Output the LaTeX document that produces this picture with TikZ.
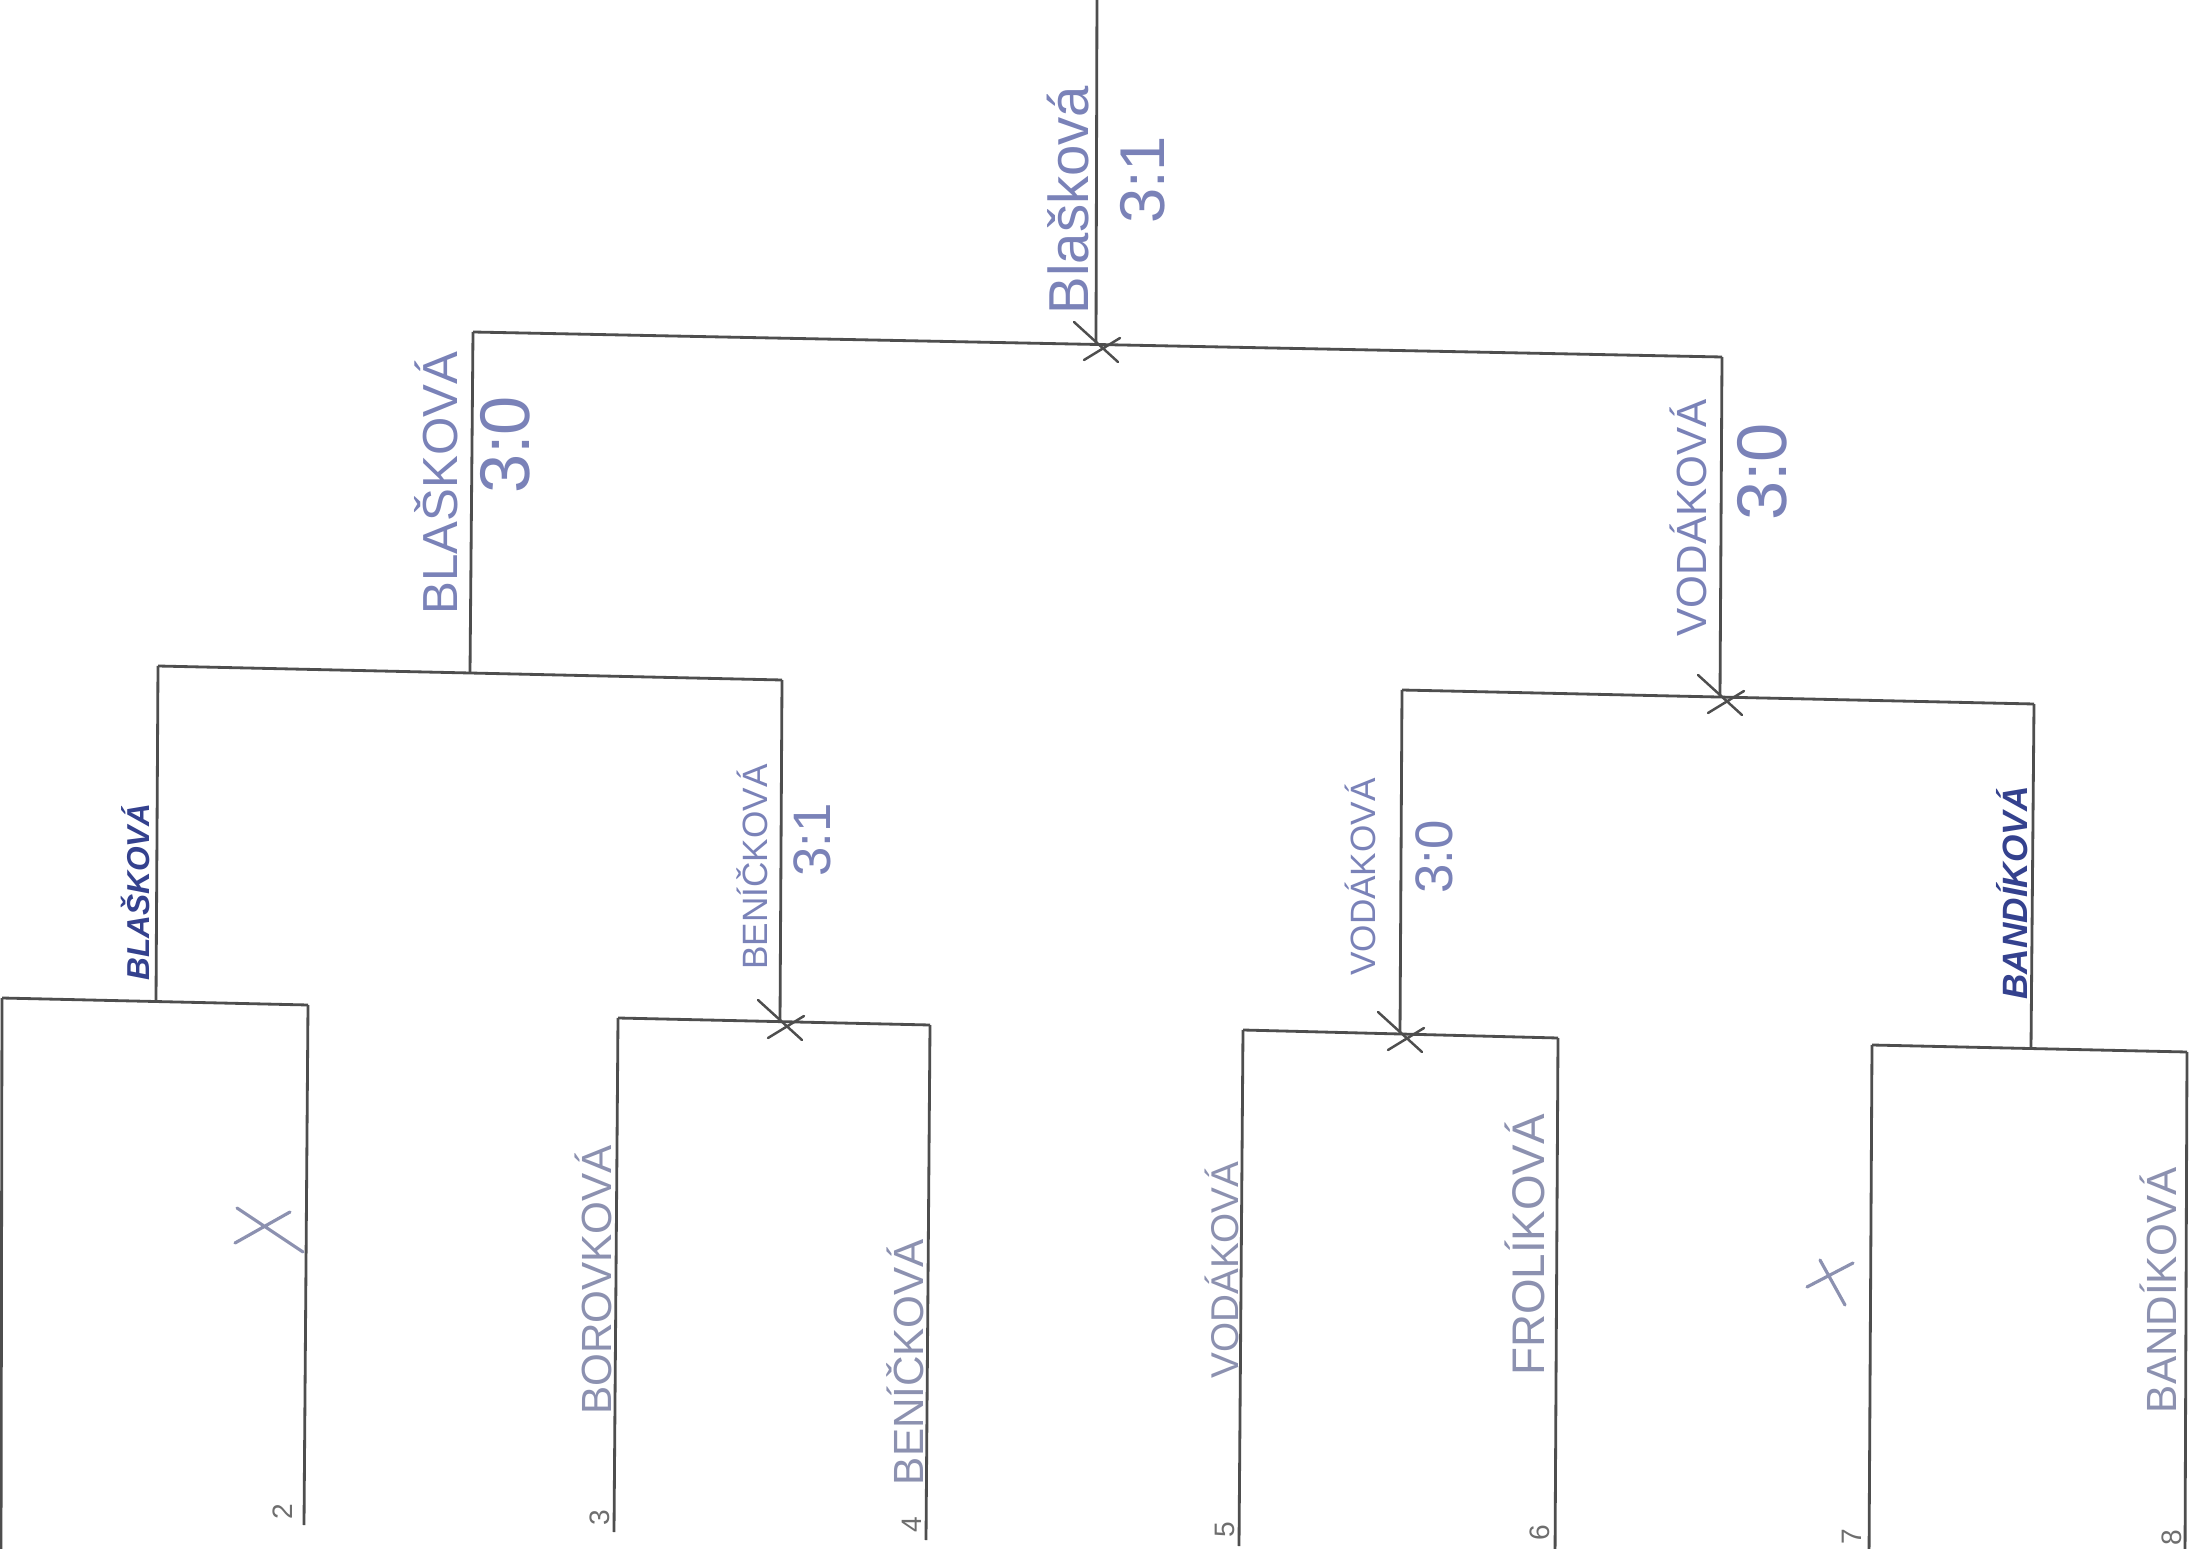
\documentclass[tikz,border=0pt]{standalone}
\usepackage{fontspec}
\setmainfont{Liberation Sans}
\definecolor{linegray}{HTML}{4E4E4E}
\definecolor{inkblue}{HTML}{7A82B8}
\definecolor{inkpale}{HTML}{8C91B0}
\definecolor{inkdark}{HTML}{34418E}
\definecolor{seedgray}{HTML}{6E6E6E}
\newcommand{\inksize}[1]{\fontsize{#1}{#1}\selectfont}
\tikzset{
  bracket/.style={
    draw=linegray,
    line width=0.8pt
  },
  tick/.style={
    draw=linegray,
    line width=0.7pt,
    line cap=round
  },
  byemark/.style={
    draw=inkpale,
    line width=0.9pt,
    line cap=round
  },
  player/.style={
    rotate=90,
    text=inkblue,
    inner sep=0pt,
    font=\inksize{12}
  },
  winner/.style={
    player,
    text=inkdark,
    font=\bfseries\itshape\inksize{10}
  },
  score/.style={
    rotate=90,
    text=inkblue,
    inner sep=0pt,
    font=\inksize{18}
  },
  seed/.style={
    rotate=90,
    text=seedgray,
    inner sep=0pt,
    font=\inksize{8}
  }
}

\begin{document}
\begin{tikzpicture}[x=0.01cm,y=-0.01cm]
  \useasboundingbox[fill=white] (0,0) rectangle (2190,1549);

  % junctions of the bracket
  \coordinate (top) at (1097,-10);
  \coordinate (j0) at (1096,344);
  \coordinate (a1) at (473,332);
  \coordinate (b1) at (1722,357);
  \coordinate (j1) at (470,673);
  \coordinate (j2) at (1720,697);
  \coordinate (a2) at (158,666);
  \coordinate (b2) at (782,680);
  \coordinate (a3) at (1402,690);
  \coordinate (b3) at (2034,704);
  \coordinate (j3) at (156,1002);
  \coordinate (j4) at (780,1022);
  \coordinate (j5) at (1400,1034);
  \coordinate (j6) at (2031,1048);

  % first round match lines
  \coordinate (m1) at (2,998);     \coordinate (m2) at (308,1005);
  \coordinate (m3) at (618,1018);  \coordinate (m4) at (930,1025);
  \coordinate (m5) at (1243,1030); \coordinate (m6) at (1558,1038);
  \coordinate (m7) at (1872,1045); \coordinate (m8) at (2187,1052);

  % leaf ends
  \coordinate (l1) at (1,1560);    \coordinate (l2) at (304,1525);
  \coordinate (l3) at (614,1532);  \coordinate (l4) at (926,1540);
  \coordinate (l5) at (1239,1546); \coordinate (l6) at (1555,1560);
  \coordinate (l7) at (1869,1560); \coordinate (l8) at (2185,1560);

  % Bracket lines.
  \draw[bracket] (top) -- (j0);
  \draw[bracket] (a1) -- (b1);
  \draw[bracket] (a1) -- (j1);
  \draw[bracket] (b1) -- (j2);
  \draw[bracket] (a2) -- (b2);
  \draw[bracket] (a3) -- (b3);
  \draw[bracket] (a2) -- (j3);
  \draw[bracket] (b2) -- (j4);
  \draw[bracket] (a3) -- (j5);
  \draw[bracket] (b3) -- (j6);
  \draw[bracket] (m1) -- (m2);
  \draw[bracket] (m3) -- (m4);
  \draw[bracket] (m5) -- (m6);
  \draw[bracket] (m7) -- (m8);
  \foreach \i in {1,...,8}
    \draw[bracket] (m\i) -- (l\i);

  % Winner ticks.
  \foreach \j in {j0,j2,j4,j5}
    \draw[tick] (\j) ++(-22,-22) -- ++(44,40) (\j) ++(-12,16) -- ++(36,-22);

  % Byes.
  \draw[byemark] (235,1243) -- (290,1212) (237,1208) -- (303,1252);
  \draw[byemark] (1807,1287) -- (1853,1263) (1820,1260) -- (1845,1305);

  % Final.
  \node[player,font=\inksize{16}] (fin) at (1068,200) {Blašková};
  \node[score] (finscore) at (1143,180) {3:1};

  % Semifinals.
  \node[player,font=\inksize{14}] (sf1) at (436,483) {BLAŠKOVÁ};
  \node[score,font=\inksize{20}] (sf1score) at (505,445) {3:0};
  \node[player] (sf2) at (1688,518) {VODÁKOVÁ};
  \node[score,font=\inksize{20}] (sf2score) at (1762,472) {3:0};

  % Quarterfinals.
  \node[winner,font=\bfseries\itshape\inksize{9}] (qf1) at (135,892) {BLAŠKOVÁ};
  \node[player,font=\inksize{10}] (qf2) at (752,867) {BENÍČKOVÁ};
  \node[score,font=\inksize{15}] (qf2score) at (812,840) {3:1};
  \node[player,font=\inksize{10}] (qf3) at (1360,877) {VODÁKOVÁ};
  \node[score,font=\inksize{15}] (qf3score) at (1434,857) {3:0};
  \node[winner] (qf4) at (2012,893) {BANDÍKOVÁ};

  % First round.
  \node[player,text=inkpale] (r3) at (593,1280) {BOROVKOVÁ};
  \node[player,text=inkpale] (r4) at (905,1362) {BENÍČKOVÁ};
  \node[player,text=inkpale,font=\inksize{11}] (r5) at (1222,1270) {VODÁKOVÁ};
  \node[player,text=inkpale,font=\inksize{13}] (r6) at (1525,1245) {FROLÍKOVÁ};
  \node[player,text=inkpale] (r8) at (2158,1290) {BANDÍKOVÁ};

  % Seeds.
  \node[seed] (s2) at (283,1512) {2};
  \node[seed] (s3) at (600,1518) {3};
  \node[seed] (s4) at (912,1525) {4};
  \node[seed] (s5) at (1225,1530) {5};
  \node[seed] (s6) at (1540,1533) {6};
  \node[seed] (s7) at (1852,1537) {7};
  \node[seed] (s8) at (2172,1538) {8};
\end{tikzpicture}
\end{document}
